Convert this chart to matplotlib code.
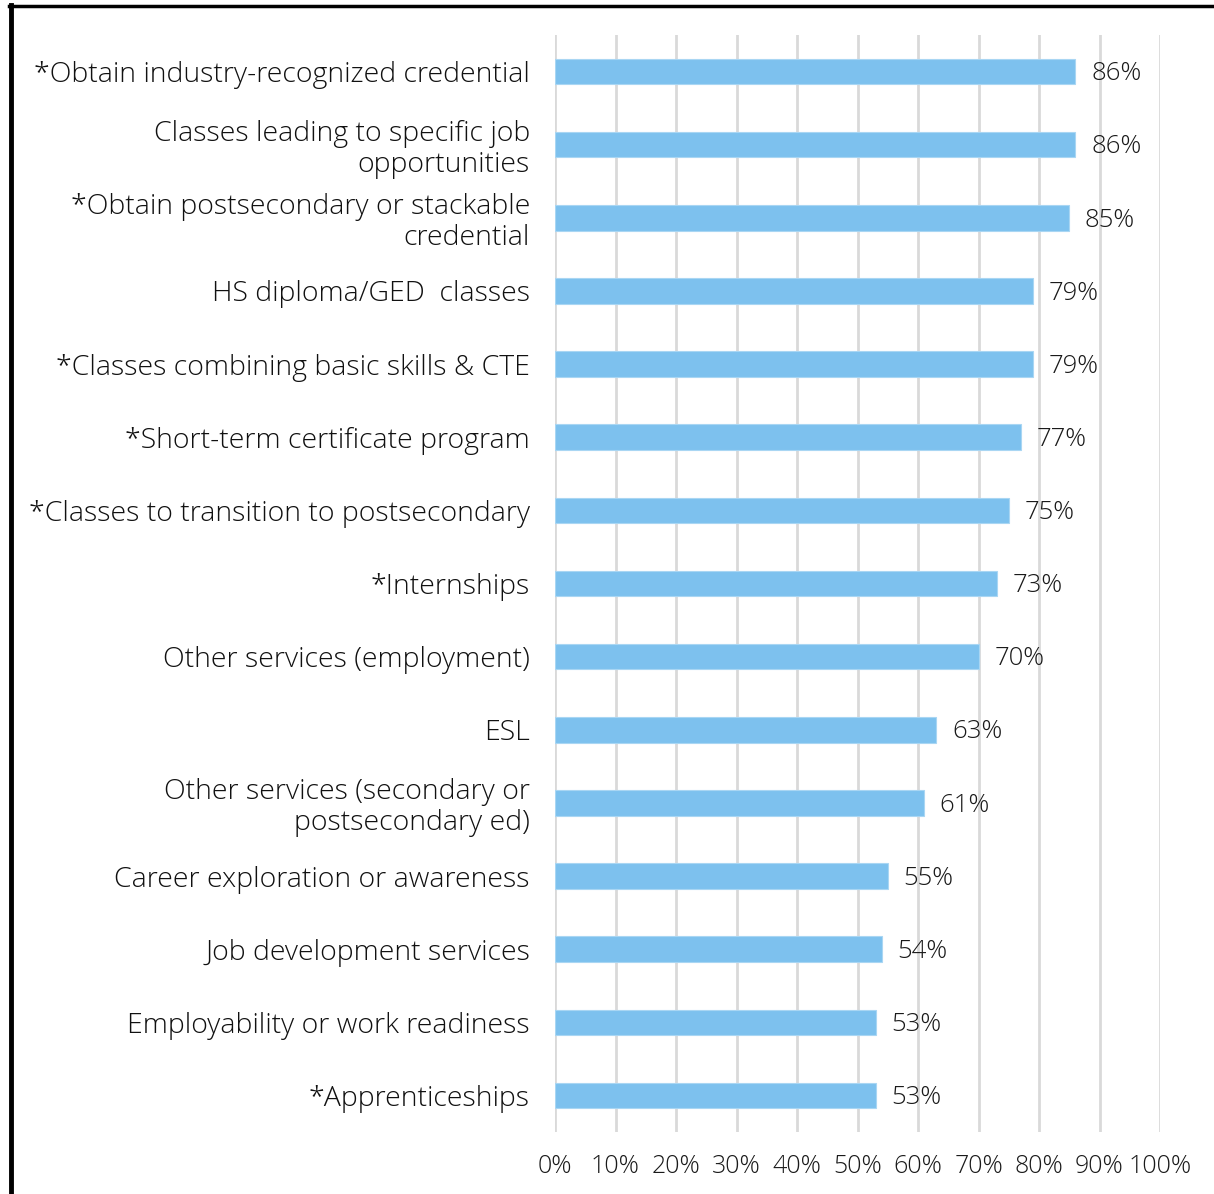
import matplotlib
matplotlib.use("Agg")
import matplotlib.pyplot as plt
from matplotlib.lines import Line2D

categories = [
    "*Obtain industry-recognized credential",
    "Classes leading to specific job\nopportunities",
    "*Obtain postsecondary or stackable\ncredential",
    "HS diploma/GED  classes",
    "*Classes combining basic skills & CTE",
    "*Short-term certificate program",
    "*Classes to transition to postsecondary",
    "*Internships",
    "Other services (employment)",
    "ESL",
    "Other services (secondary or\npostsecondary ed)",
    "Career exploration or awareness",
    "Job development services",
    "Employability or work readiness",
    "*Apprenticeships",
]
values = [86, 86, 85, 79, 79, 77, 75, 73, 70, 63, 61, 55, 54, 53, 53]
xticks = [0, 10, 20, 30, 40, 50, 60, 70, 80, 90, 100]
xtick_labels = [f"{t}%" for t in xticks]

plt.rcParams["font.family"] = ["Open Sans", "DejaVu Sans"]
plt.rcParams["font.weight"] = "light"

W, H = 1214, 1194
fig = plt.figure(figsize=(W / 100, H / 100), dpi=100)
ax = fig.add_axes([555 / W, 1 - 1132 / H, 605 / W, (1132 - 35) / H])

bar_color = "#7DC1EE"
ypos = list(range(len(categories)))
ax.barh(ypos, values, height=0.35, color=bar_color, edgecolor="#A9D6F3",
        linewidth=0.8, zorder=3)

for y, v in zip(ypos, values):
    ax.text(v + 2.6, y + 0.03, f"{v}%", va="center", ha="left", fontsize=18.5,
            color="#1a1a1a", zorder=4)

ax.set_xlim(0, 100)
ax.set_ylim(len(categories) - 0.5, -0.5)
ax.set_xticks(xticks)
ax.set_xticklabels(xtick_labels, fontsize=18, color="#1a1a1a")
ax.set_yticks(ypos)
ax.set_yticklabels(categories, fontsize=20.5, color="#111111", linespacing=1.14)
ax.tick_params(axis="both", length=0)
ax.tick_params(axis="y", pad=18)
ax.tick_params(axis="x", pad=16)
ax.xaxis.grid(True, color="#D9D9D9", linewidth=2, zorder=0)
ax.set_axisbelow(True)
for s in ax.spines.values():
    s.set_visible(False)

# frame lines on the left and top of the figure
fig.add_artist(Line2D([11 / W, 11 / W], [0, 1 - 5 / H], color="black",
                      linewidth=3.5, transform=fig.transFigure))
fig.add_artist(Line2D([9 / W, 1], [1 - 6 / H, 1 - 6 / H], color="black",
                      linewidth=2.5, transform=fig.transFigure))

fig.savefig("out.png", dpi=100)
